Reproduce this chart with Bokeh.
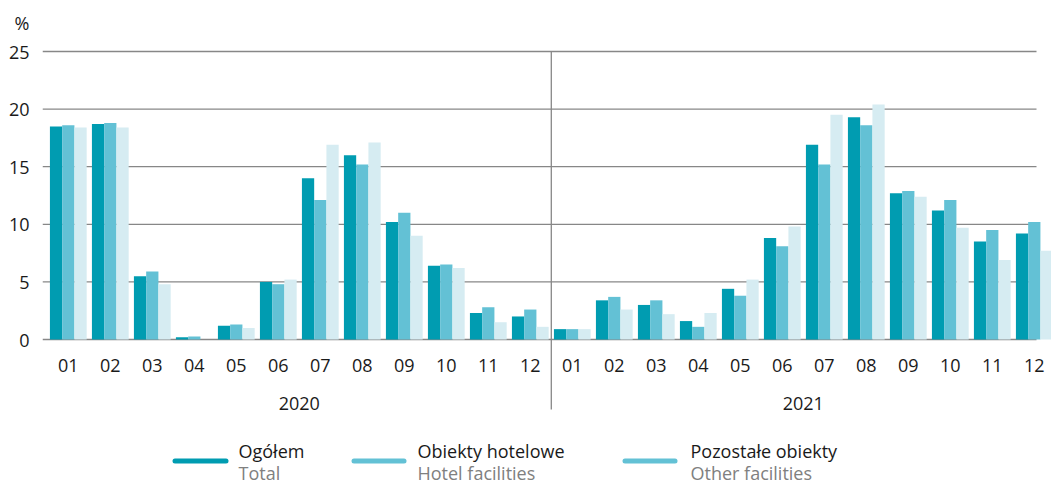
import numpy as np
from bokeh.plotting import figure
from bokeh.models import ColumnDataSource, Range1d, FixedTicker
from bokeh.core.properties import value
from bokeh.embed import file_html
from bokeh.resources import INLINE

# ---------------- data ----------------
years = ["2020", "2021"]
months = ["01", "02", "03", "04", "05", "06", "07", "08", "09", "10", "11", "12"]

total = [18.5, 18.7, 5.5, 0.2, 1.2, 5.0, 14.0, 16.0, 10.2, 6.4, 2.3, 2.0,
         0.9, 3.4, 3.0, 1.6, 4.4, 8.8, 16.9, 19.3, 12.7, 11.2, 8.5, 9.2]
hotel = [18.6, 18.8, 5.9, 0.25, 1.3, 4.8, 12.1, 15.2, 11.0, 6.5, 2.8, 2.6,
         0.9, 3.7, 3.4, 1.1, 3.8, 8.1, 15.2, 18.6, 12.9, 12.1, 9.5, 10.2]
other = [18.4, 18.4, 4.8, 0.0, 1.0, 5.2, 16.9, 17.1, 9.0, 6.2, 1.5, 1.1,
         0.9, 2.6, 2.2, 2.3, 5.2, 9.8, 19.5, 20.4, 12.4, 9.7, 6.9, 7.7]

series_pl = ["Ogółem", "Obiekty hotelowe", "Pozostałe obiekty"]
series_en = ["Total", "Hotel facilities", "Other facilities"]

y_ticks = [0, 5, 10, 15, 20, 25]
y_unit_label = "%"

# ---------------- style ----------------
DARK = "#009cb1"
MID = "#63c1d5"
LIGHT = "#d6ecf2"
bar_colors = [DARK, MID, LIGHT]
legend_colors = [DARK, MID, MID]
GRID = "#878787"
TXT = "#1a1a1a"
SUB = "#808080"
FONT = value("Open Sans")
FS = "18px"

W, H = 1051, 484
FRAME_LEFT = 42          # canvas px
G0, GW = 67.8, 42.0      # first group centre (px), group pitch
Y0, YS = 339.0, 11.52    # px of y=0, px per unit


def px2x(px):
    return (px - G0) / GW


def py2y(py):
    return (Y0 - py) / YS


n = len(years) * len(months)
idx = np.arange(n)

p = figure(width=W, height=H, output_backend="svg", toolbar_location=None,
           x_range=Range1d(px2x(FRAME_LEFT), px2x(W)),
           y_range=Range1d(py2y(H), py2y(0)),
           x_axis_location=None, min_border_left=FRAME_LEFT,
           min_border_right=0, min_border_top=0, min_border_bottom=0)
p.xgrid.visible = False
p.ygrid.visible = False
p.outline_line_color = None
p.background_fill_color = "white"
p.border_fill_color = "white"

# y axis
pct_pos = 27.5
ax = p.yaxis[0]
ax.ticker = FixedTicker(ticks=y_ticks + [pct_pos])
ax.major_label_overrides = {pct_pos: y_unit_label}
ax.axis_line_color = None
ax.major_tick_line_color = None
ax.minor_tick_line_color = None
ax.major_tick_out = 0
ax.major_tick_in = 0
ax.major_label_standoff = 13
ax.major_label_text_font = "Open Sans"
ax.major_label_text_font_size = FS
ax.major_label_text_color = TXT

# grid lines (limited extent as in the reference)
x_grid_end = px2x(1036)
p.segment(x0=[px2x(FRAME_LEFT)] * len(y_ticks), x1=[x_grid_end] * len(y_ticks),
          y0=y_ticks, y1=y_ticks, line_color=GRID, line_width=1.3)

# year divider
div_x = len(months) - 0.5
p.segment(x0=[div_x], x1=[div_x], y0=[y_ticks[-1]], y1=[py2y(409)],
          line_color=GRID, line_width=1.3)

# bars
BAR_W = 12.25 / GW
for k, vals in enumerate([total, hotel, other]):
    src = ColumnDataSource(dict(x=idx + (k - 1) * BAR_W, top=vals))
    p.vbar(x="x", top="top", bottom=0, width=BAR_W, source=src,
           fill_color=bar_colors[k], line_color=None)

# month labels
p.text(x=idx, y=[py2y(364.5)] * n, text=months * len(years),
       text_font=FONT, text_font_size=FS, text_color=TXT,
       text_align="center", text_baseline="alphabetic")

# year labels
yc = [(len(months) - 1) / 2 + j * len(months) for j in range(len(years))]
p.text(x=yc, y=[py2y(403.2)] * len(years), text=years,
       text_font=FONT, text_font_size=FS, text_color=TXT,
       text_align="center", text_baseline="alphabetic")

# legend (custom, two-line labels)
leg_line = [(174.5, 225.5), (353.5, 403.5), (624.5, 674.5)]
leg_text = [238, 417, 690]
LEG_Y, PL_Y, EN_Y = 460.5, 450.5, 472.5
for k in range(3):
    p.segment(x0=[px2x(leg_line[k][0])], x1=[px2x(leg_line[k][1])],
              y0=[py2y(LEG_Y)], y1=[py2y(LEG_Y)], line_color=legend_colors[k],
              line_width=5, line_cap="round")
    p.text(x=[px2x(leg_text[k])], y=[py2y(PL_Y)], text=[series_pl[k]],
           text_font=FONT, text_font_size=FS, text_color=TXT,
           text_align="left", text_baseline="alphabetic")
    p.text(x=[px2x(leg_text[k])], y=[py2y(EN_Y)], text=[series_en[k]],
           text_font=FONT, text_font_size=FS, text_color=SUB,
           text_align="left", text_baseline="alphabetic")

open("out.html", "w").write(file_html(p, INLINE))
